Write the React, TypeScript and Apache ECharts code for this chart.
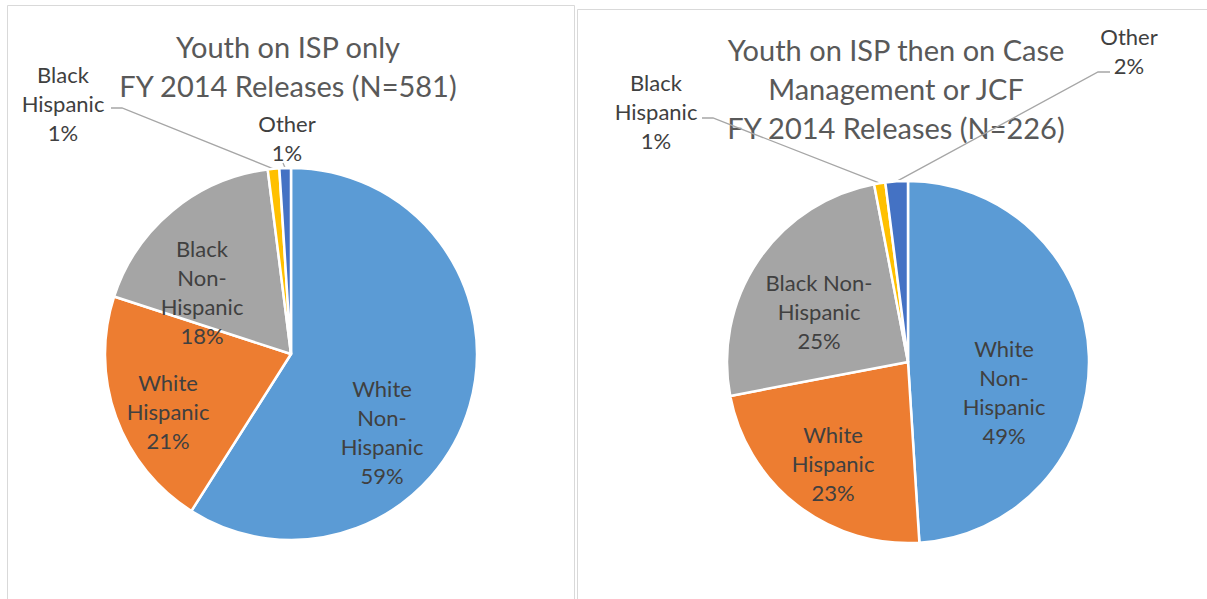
import React, { useEffect, useRef } from "react";
import * as echarts from "echarts";

// ---- data ----
const categories = ["White Non-Hispanic", "White Hispanic", "Black Non-Hispanic", "Black Hispanic", "Other"];
const ispOnlyValues = [59, 21, 18, 1, 1];
const ispThenValues = [49, 23, 25, 1, 2];
const leftTitle = "Youth on ISP only\nFY 2014 Releases (N=581)";
const rightTitle = "Youth on ISP then on Case\nManagement or JCF\nFY 2014 Releases (N=226)";
const leftLabelText = ["White\nNon-\nHispanic", "White\nHispanic", "Black\nNon-\nHispanic", "Black\nHispanic", "Other"];
const rightLabelText = ["White\nNon-\nHispanic", "White\nHispanic", "Black Non-\nHispanic", "Black\nHispanic", "Other"];
const colors = ["#5B9BD5", "#ED7D31", "#A5A5A5", "#FFC000", "#4472C4"];

// ---- layout ----
const FONT = "Lato";
const LEFT = { cx: 291, cy: 354, r: 186 };
const RIGHT = { cx: 908, cy: 362, r: 181 };
// label centres as offsets from pie centre
const leftOffsets = [[91, 78], [-123, 57], [-89, -62], [-228, -251], [-4, -216]];
const rightOffsets = [[96, 30], [-75, 101], [-89, -51], [-252, -251], [221, -311]];
// guide lines: [bendDx, endDx, dy] relative to label centre
const leftGuides: any[] = [null, null, null, [59, 48, 5], [-4, -4, 25]];
const rightGuides: any[] = [null, null, null, [57, 46, 7], [-31, -19, 21]];

function makeLayout(cx: number, cy: number, offsets: number[][], guides: any[]) {
  return (params: any) => {
    const i = params.dataIndex;
    const lx = cx + offsets[i][0];
    const ly = cy + offsets[i][1];
    const res: any = { x: lx, y: ly, align: "center", verticalAlign: "middle" };
    const g = guides[i];
    if (g && params.labelLinePoints && params.labelLinePoints.length) {
      const a = params.labelLinePoints[0];
      res.labelLinePoints = [
        [a[0], a[1]],
        [lx + g[0], ly + g[2]],
        [lx + g[1], ly + g[2]],
      ];
    }
    return res;
  };
}

function makeSeries(values: number[], labels: string[], geo: any, offsets: number[][], guides: any[]) {
  return {
    type: "pie",
    center: [geo.cx, geo.cy],
    radius: geo.r,
    startAngle: 90,
    clockwise: true,
    avoidLabelOverlap: false,
    percentPrecision: 2,
    itemStyle: { borderColor: "#ffffff", borderWidth: 2.5 },
    label: {
      show: true,
      position: "inside",
      fontFamily: FONT,
      fontSize: 22,
      lineHeight: 29,
      color: "#404040",
      formatter: (p: any) => labels[p.dataIndex] + "\n" + Math.round(p.percent) + "%",
    },
    labelLine: { show: false },
    labelLayout: makeLayout(geo.cx, geo.cy, offsets, guides),
    data: categories.map((name, i) => {
      const small = guides[i] != null;
      return {
        name,
        value: values[i],
        itemStyle: { color: colors[i] },
        label: small ? { position: "outside" } : undefined,
        labelLine: small
          ? { show: true, lineStyle: { color: "#A6A6A6", width: 1.3 } }
          : undefined,
      };
    }),
  };
}

export default function App() {
  const ref = useRef<HTMLDivElement>(null);
  useEffect(() => {
    if (!ref.current) return;
    const chart = echarts.init(ref.current, undefined, { renderer: "svg" });
    chart.setOption({
      animation: false,
      backgroundColor: "#ffffff",
      graphic: [
        {
          type: "rect",
          z: -10,
          shape: { x: 7.5, y: 5.5, width: 567, height: 620 },
          style: { fill: "none", stroke: "#D9D9D9", lineWidth: 1 },
          silent: true,
        },
        {
          type: "rect",
          z: -10,
          shape: { x: 577.5, y: 9.5, width: 660, height: 620 },
          style: { fill: "none", stroke: "#D9D9D9", lineWidth: 1 },
          silent: true,
        },
        {
          type: "text",
          x: 288,
          y: 66,
          style: {
            text: leftTitle,
            align: "center",
            verticalAlign: "middle",
            fontFamily: FONT,
            fontSize: 29,
            lineHeight: 39,
            fill: "#595959",
          },
        },
        {
          type: "text",
          x: 896,
          y: 88,
          style: {
            text: rightTitle,
            align: "center",
            verticalAlign: "middle",
            fontFamily: FONT,
            fontSize: 29,
            lineHeight: 39,
            fill: "#595959",
          },
        },
      ],
      series: [
        makeSeries(ispOnlyValues, leftLabelText, LEFT, leftOffsets, leftGuides),
        makeSeries(ispThenValues, rightLabelText, RIGHT, rightOffsets, rightGuides),
      ],
    });
    return () => chart.dispose();
  }, []);
  return (
    <div
      ref={ref}
      style={{ position: "fixed", left: 0, top: 0, width: 1207, height: 599, background: "#fff" }}
    />
  );
}
